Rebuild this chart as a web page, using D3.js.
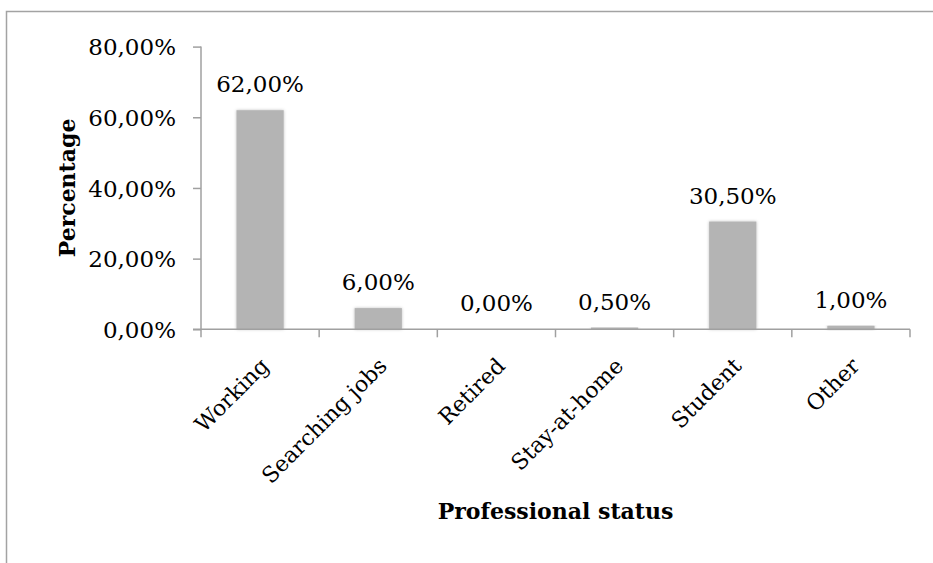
<!DOCTYPE html>
<html>
<head>
<meta charset="utf-8">
<script src="https://cdn.jsdelivr.net/npm/d3@7"></script>
<style>
  body { margin: 0; background: #fff; }
  text { font-family: "DejaVu Serif", serif; fill: #000; }
</style>
</head>
<body>
<div id="chart"></div>
<script>
var categories = ["Working", "Searching jobs", "Retired", "Stay-at-home", "Student", "Other"];
var values = [62.0, 6.0, 0.0, 0.5, 30.5, 1.0];
var yTicks = [0, 20, 40, 60, 80];

var W = 933, H = 563;
var margin = {top: 46.6, left: 201, bottom: 563 - 329.3, right: 933 - 910};
var width = W - margin.left - margin.right,
    height = H - margin.top - margin.bottom;

var fmt = function(v) { return v.toFixed(2).replace(".", ",") + "%"; };

var root = d3.select("#chart").append("svg")
    .attr("width", W)
    .attr("height", H);

// outer frame (cropped at right and bottom)
root.append("path")
    .attr("d", "M6.5," + H + "V11.5H" + W)
    .attr("fill", "none")
    .attr("stroke", "#a3a3a3")
    .attr("stroke-width", 1.5);

var defs = root.append("defs");
var f = defs.append("filter").attr("id", "shadow")
    .attr("x", "-20%").attr("y", "-20%").attr("width", "140%").attr("height", "140%");
f.append("feDropShadow")
    .attr("dx", 0).attr("dy", 0)
    .attr("stdDeviation", 1.6)
    .attr("flood-color", "#000")
    .attr("flood-opacity", 0.25);

var svg = root.append("g")
    .attr("transform", "translate(" + margin.left + "," + margin.top + ")");

var x = d3.scaleBand()
    .domain(categories)
    .range([0, width])
    .paddingInner(0.6)
    .paddingOuter(0.3);

var y = d3.scaleLinear()
    .domain([0, 80])
    .range([height, 0]);

// bars
svg.selectAll(".bar")
    .data(values)
    .enter().append("rect")
        .attr("class", "bar")
        .attr("x", function(d, i) { return x(categories[i]); })
        .attr("width", x.bandwidth())
        .attr("y", function(d) { return y(d); })
        .attr("height", function(d) { return height - y(d); })
        .style("fill", "#b4b4b4")
        .attr("filter", "url(#shadow)");

// y axis
var yAxis = svg.append("g")
    .attr("class", "axis axis--y")
    .call(d3.axisLeft(y).tickValues(yTicks).tickSize(8).tickSizeOuter(0).tickFormat(fmt));

// x axis
var step = x.step();
var xAxis = svg.append("g")
    .attr("class", "axis axis--x")
    .attr("transform", "translate(0," + height + ")");
xAxis.append("line")
    .attr("x1", -8).attr("x2", width)
    .attr("y1", 0).attr("y2", 0);
xAxis.selectAll(".xtick")
    .data(d3.range(categories.length + 1))
    .enter().append("line")
        .attr("class", "xtick")
        .attr("x1", function(i) { return i * step; })
        .attr("x2", function(i) { return i * step; })
        .attr("y1", 0).attr("y2", 8);

svg.selectAll(".axis line, .axis path")
    .attr("stroke", "#a0a0a0")
    .attr("stroke-width", 1.5);
yAxis.select(".domain").remove();
yAxis.append("line")
    .attr("x1", 0).attr("x2", 0)
    .attr("y1", 0).attr("y2", height)
    .attr("stroke", "#a0a0a0").attr("stroke-width", 1.5);

yAxis.selectAll(".tick text")
    .attr("x", -25)
    .attr("dy", "0.36em")
    .style("font-family", "DejaVu Serif")
    .style("font-size", "23px")
    .style("fill", "#000");

// category labels
svg.selectAll(".cat-label")
    .data(categories)
    .enter().append("text")
        .attr("class", "cat-label")
        .attr("text-anchor", "end")
        .attr("transform", function(d) {
            return "translate(" + (x(d) + x.bandwidth() / 2 + 10) + "," + (height + 38) + ") rotate(-45)";
        })
        .style("font-size", "22px")
        .text(function(d) { return d; });

// value labels
svg.selectAll(".val-label")
    .data(values)
    .enter().append("text")
        .attr("class", "val-label")
        .attr("text-anchor", "middle")
        .attr("x", function(d, i) { return x(categories[i]) + x.bandwidth() / 2; })
        .attr("y", function(d) { return y(d) - 18; })
        .style("font-size", "23px")
        .text(function(d) { return fmt(d); });

// axis titles
svg.append("text")
    .attr("text-anchor", "middle")
    .attr("transform", "translate(" + (-126) + "," + (height / 2) + ") rotate(-90)")
    .style("font-size", "22px")
    .style("font-weight", "bold")
    .text("Percentage");

svg.append("text")
    .attr("text-anchor", "middle")
    .attr("x", width / 2)
    .attr("y", 519 - margin.top)
    .style("font-size", "22px")
    .style("font-weight", "bold")
    .text("Professional status");
</script>
</body>
</html>
